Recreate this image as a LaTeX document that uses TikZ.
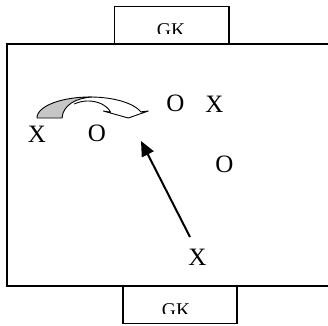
\documentclass[tikz,border=0pt]{standalone}
\usepackage{fontspec}
\setmainfont{Liberation Serif}
\usetikzlibrary{arrows.meta}
\begin{document}
\begin{tikzpicture}[x=1pt,y=-1pt,
  field/.style={line width=2pt},
  goalbox/.style={line width=1.2pt},
  player/.style={font=\fontsize{25}{25}\selectfont, inner sep=0pt, anchor=base},
  gktext/.style={font=\fontsize{19.5}{19.5}\selectfont, inner sep=0pt, anchor=base},
  curvy/.style={line width=0.9pt, line join=round}]
\useasboundingbox (0,0) rectangle (328,325);
\clip (0,0) rectangle (328,325);
% goal boxes
\draw[goalbox] (114.5,43.5) -- (114.5,6.5) -- (229,6.5) -- (229,43.5);
\draw[goalbox] (123,286) -- (123,323.5) -- (237,323.5) -- (237,286);
\begin{scope}
  \clip (115,6) rectangle (229,33.5);
  \node[gktext] (gktop) at (171,36) {GK};
\end{scope}
\begin{scope}
  \clip (123,286) rectangle (237,313.5);
  \node[gktext] (gkbot) at (176,316) {GK};
\end{scope}
% field
\draw[field] (340,43.5) -- (7,43.5) -- (7,286) -- (340,286);
% players
\node[player] (x1) at (37,142) {X};
\node[player] (o1) at (97,141.5) {O};
\node[player] (o2) at (175.5,111.5) {O};
\node[player] (x2) at (214.5,112) {X};
\node[player] (o3) at (224.5,172.5) {O};
\node[player] (x3) at (197.5,265) {X};
% run arrow
\coordinate (runstart) at (190,237);
\coordinate (runend) at (141,141);
\draw[line width=2pt, -{Triangle[length=15pt,width=13pt]}] (runstart) -- (runend);
% curved pass arrow: white back part
\draw[curvy, fill=white]
  plot[domain=92:17, samples=40] ({90+53*cos(\x)},{118-21*sin(\x)})
  -- (148.3,111) -- (128.3,118) -- (103.3,111)
  -- plot[domain=20:125, samples=40] ({88+24*cos(\x)},{118-17*sin(\x)});
% gray front part
\draw[curvy, fill=gray!45]
  plot[domain=180:88, samples=40] ({90+53*cos(\x)},{118-21*sin(\x)})
  .. controls (76,98) and (63,105) .. (62,118) -- cycle;
\end{tikzpicture}
\end{document}
